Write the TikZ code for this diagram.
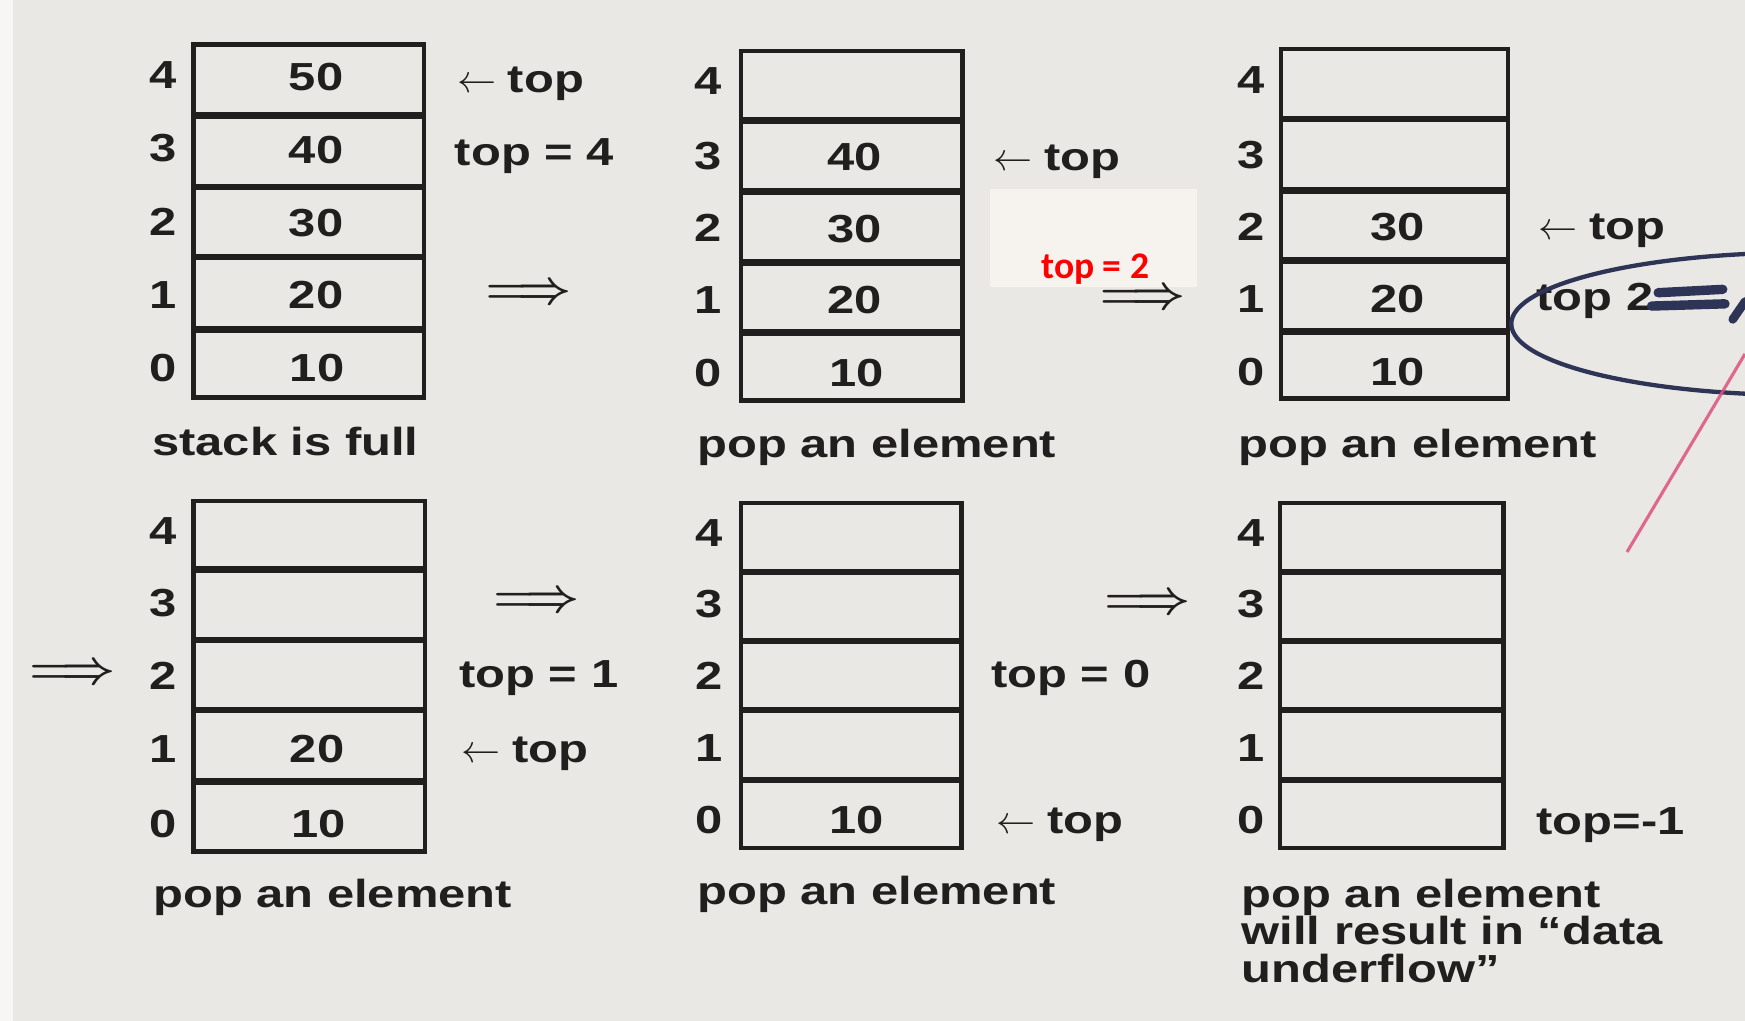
\documentclass[tikz,border=0pt]{standalone}
\usepackage{fontspec}
\newfontfamily\wide{Liberation Sans}[FakeStretch=1.25]
\newfontfamily\redfnt{Carlito}
\definecolor{paper}{RGB}{234,232,228}
\definecolor{ink}{RGB}{33,30,30}
\definecolor{pen}{RGB}{45,52,85}
\definecolor{pinkline}{RGB}{222,80,125}
\definecolor{patch}{RGB}{246,243,238}
\tikzset{
  boxline/.style={draw=ink, line width=1.15pt},
  divline/.style={draw=ink, line width=1.7pt},
  idx/.style={font=\wide\bfseries\fontsize{10}{12}\selectfont, text=ink, inner sep=0pt},
  lbl/.style={font=\wide\bfseries\fontsize{10}{12}\selectfont, text=ink, inner sep=0pt, anchor=base west},
  dbl/.style={font=\fontsize{13}{13}\selectfont, text=ink, inner sep=0pt},
}
\newcommand\larr{$\leftarrow$\hspace{3pt}}
\newcommand\dblarr{{\boldmath$\Longrightarrow$}}
\begin{document}
\begin{tikzpicture}[x=0.01cm, y=-0.01cm]
\useasboundingbox (0,0) rectangle (1568,917);
\fill[white!60!paper] (0,0) rectangle (1568,917);
\fill[paper] (12,0) rectangle (1568,917);

% ---------- stack 1 ----------
\draw[boxline] (174,40) rectangle (381,357);
\foreach \y in {104,168,231,296} \draw[divline] (174,\y) -- (381,\y);
\node[idx] (a4) at (147,67) {4};
\node[idx] (a3) at (147,133) {3};
\node[idx] (a2) at (147,199) {2};
\node[idx] (a1) at (147,265) {1};
\node[idx] (a0) at (147,331) {0};
\node[idx] (av4) at (284,69) {50};
\node[idx] (av3) at (284,135) {40};
\node[idx] (av2) at (284,200) {30};
\node[idx] (av1) at (284,265) {20};
\node[idx] (av0) at (285,331) {10};
\node[lbl] (atop) at (410,83) {\larr top};
\node[lbl] (aeq) at (408,149) {top = 4};
\node[dbl] (arr1) at (475,264) {\dblarr};
\node[lbl] (acap) at (136,409) {stack is full};

% ---------- stack 2 ----------
\draw[boxline] (666,46) rectangle (865,360);
\foreach \y in {108,172,236,299} \draw[divline] (666,\y) -- (865,\y);
\node[idx] (b4) at (636,73) {4};
\node[idx] (b3) at (636,140) {3};
\node[idx] (b2) at (636,205) {2};
\node[idx] (b1) at (636,270) {1};
\node[idx] (b0) at (636,335) {0};
\node[idx] (bv3) at (768,141) {40};
\node[idx] (bv2) at (768,206) {30};
\node[idx] (bv1) at (768,270) {20};
\node[idx] (bv0) at (770,335) {10};
\node[lbl] (btop) at (892,153) {\larr top};
\node[lbl] (bcap) at (626,411) {pop an element};
\fill[patch] (890,170) rectangle (1076,258);
\node[font=\redfnt\bfseries\fontsize{9.6}{11}\selectfont, text=red, inner sep=0pt, anchor=base west] (bred) at (935,250) {top = 2};
\node[dbl] (arr2) at (1027,269) {\dblarr};

% ---------- stack 3 ----------
\draw[boxline] (1151,44) rectangle (1355,358);
\foreach \y in {107,171,234,298} \draw[divline] (1151,\y) -- (1355,\y);
\node[idx] (c4) at (1124,72) {4};
\node[idx] (c3) at (1124,139) {3};
\node[idx] (c2) at (1124,204) {2};
\node[idx] (c1) at (1124,269) {1};
\node[idx] (c0) at (1124,334) {0};
\node[idx] (cv2) at (1256,204) {30};
\node[idx] (cv1) at (1256,269) {20};
\node[idx] (cv0) at (1256,334) {10};
\node[lbl] (ctop) at (1382,215) {\larr top};
\node[lbl] (ceq) at (1380,279) {top 2};
% handwriting
\draw[pen, line width=1.1pt] (1620,291) ellipse [x radius=262, y radius=64];
\draw[pen, line width=2.4pt, line cap=round] (1490,263) -- (1548,260);
\draw[pen, line width=2.4pt, line cap=round] (1484,275) -- (1550,273);
\draw[pen, line width=2.2pt, line cap=round] (1557,287) -- (1568,271);
\draw[pinkline, line width=0.8pt, opacity=0.85] (1568,318) -- (1462,496);
\node[lbl] (ccap) at (1112,411) {pop an element};

% ---------- stack 4 ----------
\draw[boxline] (174,450) rectangle (382,765);
\foreach \y in {512,575,638,702} \draw[divline] (174,\y) -- (382,\y);
\node[idx] (d4) at (147,477) {4};
\node[idx] (d3) at (147,542) {3};
\node[idx] (d2) at (147,607) {2};
\node[idx] (d1) at (147,673) {1};
\node[idx] (d0) at (147,740) {0};
\node[idx] (dv1) at (285,673) {20};
\node[idx] (dv0) at (286,740) {10};
\node[dbl] (arr4) at (482,541) {\dblarr};
\node[dbl] (arr3) at (65,606) {\dblarr};
\node[lbl] (deq) at (412,618) {top = 1};
\node[lbl] (dtop) at (414,685) {\larr top};
\node[lbl] (dcap) at (137,815) {pop an element};

% ---------- stack 5 ----------
\draw[boxline] (666,452) rectangle (864,762);
\foreach \y in {514,576,638,701} \draw[divline] (666,\y) -- (864,\y);
\node[idx] (e4) at (637,479) {4};
\node[idx] (e3) at (637,543) {3};
\node[idx] (e2) at (637,607) {2};
\node[idx] (e1) at (637,672) {1};
\node[idx] (e0) at (637,737) {0};
\node[idx] (ev0) at (770,737) {10};
\node[lbl] (eeq) at (890,618) {top = 0};
\node[lbl] (etop) at (895,749) {\larr top};
\node[dbl] (arr5) at (1031,543) {\dblarr};
\node[lbl] (ecap) at (626,813) {pop an element};

% ---------- stack 6 ----------
\draw[boxline] (1150,452) rectangle (1351,762);
\foreach \y in {514,576,638,701} \draw[divline] (1150,\y) -- (1351,\y);
\node[idx] (f4) at (1124,479) {4};
\node[idx] (f3) at (1124,543) {3};
\node[idx] (f2) at (1124,607) {2};
\node[idx] (f1) at (1124,672) {1};
\node[idx] (f0) at (1124,737) {0};
\node[lbl] (feq) at (1380,750) {top=-1};
\node[lbl] (fcap1) at (1115,815) {pop an element};
\node[lbl] (fcap2) at (1115,849) {will result in “data};
\node[lbl] (fcap3) at (1115,883) {underflow”};
\end{tikzpicture}
\end{document}
